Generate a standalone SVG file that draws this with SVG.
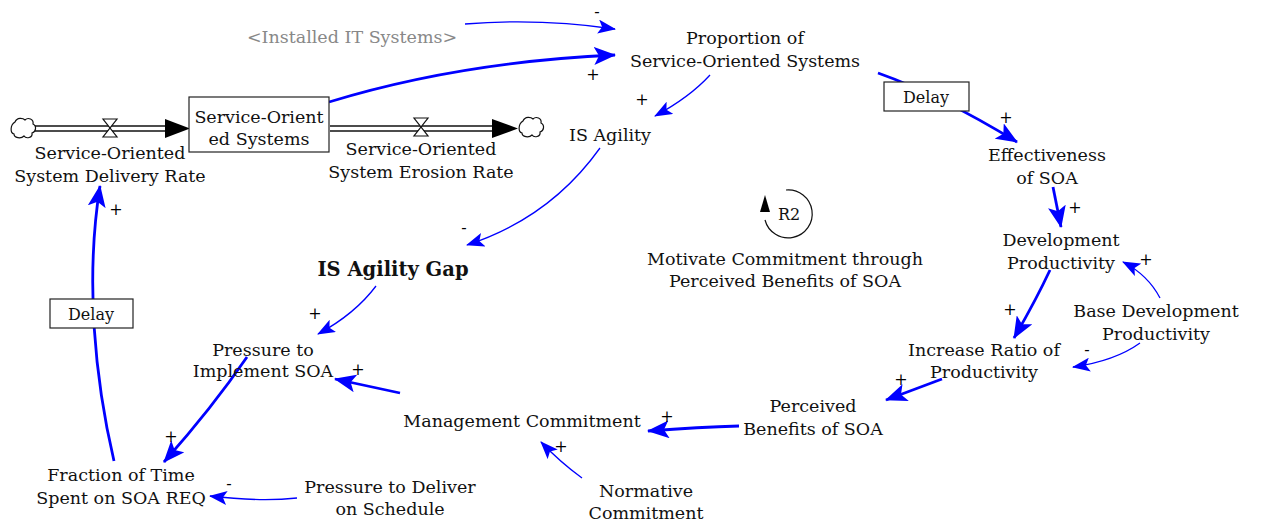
<svg xmlns="http://www.w3.org/2000/svg" width="1262" height="523" viewBox="0 0 1262 523">
<style>
text{font-family:"DejaVu Serif","Liberation Serif",serif;font-size:17.5px;fill:#111;text-anchor:middle}
.pol{font-size:16px;fill:#000}
.ghost{fill:#888}
.bold{font-weight:bold;font-size:19.5px}
.thin{fill:none;stroke:#0000ff;stroke-width:1.3;marker-end:url(#ht)}
.thick{fill:none;stroke:#0000ff;stroke-width:2.8;marker-end:url(#hk)}
.box{fill:#fff;stroke:#222;stroke-width:1.2}
.pipe{fill:none;stroke:#111;stroke-width:1.3}
.cloud{fill:#fff;stroke:#111;stroke-width:1.2}
</style>
<defs>
<marker id="ht" markerUnits="userSpaceOnUse" markerWidth="20" markerHeight="14" refX="17" refY="7" orient="auto">
<path d="M0,0 L18,7 L0,14 L4,7 Z" fill="#0000ff"/>
</marker>
<marker id="hk" markerUnits="userSpaceOnUse" markerWidth="24" markerHeight="18" refX="21" refY="9" orient="auto">
<path d="M0,0 L22,9 L0,18 L5,9 Z" fill="#0000ff"/>
</marker>
<path id="cl" d="M-8,-6 C-6,-11 0,-10 2,-8 C5,-11 11,-9 10,-4 C14,-2 13,4 9,5 C10,10 3,11 1,8 C-2,11 -9,10 -9,6 C-13,5 -13,-3 -8,-6 Z"/>
<path id="valve" d="M-7,-9 L7,-9 L-7,9 L7,9 Z"/>
</defs>

<g id="connectors">
<path class="thin" d="M465,24 Q540,18 615,29"/>
<path class="thick" d="M329,102 Q460,62 615,55"/>
<path class="thin" d="M710,75 Q690,97 655,116"/>
<path class="thin" d="M600,148 Q550,218 467,245"/>
<path class="thin" d="M376,286 Q355,314 318,334"/>
<path class="thick" d="M400,393 L335,379"/>
<path class="thick" d="M247,357 Q212,408 164,462"/>
<path class="thin" d="M297,498 Q260,502 210,496"/>
<path class="thick" d="M114,461 C95,380 85,280 100,186"/>
<path class="thick" d="M878,73 Q940,95 1017,142"/>
<path class="thick" d="M1053,187 L1061,227"/>
<path class="thick" d="M1050,270 Q1036,300 1014,338"/>
<path class="thin" d="M1160,298 Q1148,275 1123,262"/>
<path class="thin" d="M1140,343 Q1115,361 1073,367"/>
<path class="thick" d="M942,379 L886,400"/>
<path class="thick" d="M739,426 Q700,427 648,431"/>
<path class="thin" d="M582,478 Q560,462 541,442"/>
</g>

<g id="polarities">
<text class="pol" x="597" y="17">-</text>
<text class="pol" x="593" y="80">+</text>
<text class="pol" x="642" y="105">+</text>
<text class="pol" x="464" y="233">-</text>
<text class="pol" x="315" y="319">+</text>
<text class="pol" x="358" y="375">+</text>
<text class="pol" x="171" y="442">+</text>
<text class="pol" x="229" y="489">-</text>
<text class="pol" x="116" y="215">+</text>
<text class="pol" x="1006" y="123">+</text>
<text class="pol" x="1075" y="213">+</text>
<text class="pol" x="1146" y="265">+</text>
<text class="pol" x="1010" y="315">+</text>
<text class="pol" x="1087" y="355">-</text>
<text class="pol" x="901" y="385">+</text>
<text class="pol" x="667" y="422">+</text>
<text class="pol" x="561" y="452">+</text>
</g>

<g id="flow-delivery">
<use href="#cl" x="23" y="128" class="cloud"/>
<line class="pipe" x1="35" y1="126" x2="170" y2="126"/>
<line class="pipe" x1="35" y1="131" x2="170" y2="131"/>
<path d="M165,119 L190,128.5 L165,138 Z" fill="#000"/>
<use href="#valve" x="110" y="128" fill="#fff" stroke="#111" stroke-width="1.2"/>
<text x="110" y="159">Service-Oriented</text>
<text x="110" y="182">System Delivery Rate</text>
</g>

<g id="stock-soa">
<rect class="box" x="189" y="97" width="140" height="55"/>
<text x="259" y="123">Service-Orient</text>
<text x="259" y="145">ed Systems</text>
</g>

<g id="flow-erosion">
<line class="pipe" x1="330" y1="126" x2="498" y2="126"/>
<line class="pipe" x1="330" y1="131" x2="498" y2="131"/>
<path d="M492,119 L518,128.5 L492,138 Z" fill="#000"/>
<use href="#cl" x="531" y="127" class="cloud"/>
<use href="#valve" x="421" y="127" fill="#fff" stroke="#111" stroke-width="1.2"/>
<text x="421" y="155">Service-Oriented</text>
<text x="421" y="178">System Erosion Rate</text>
</g>

<g id="installed-it"><text class="ghost" x="352" y="43">&lt;Installed IT Systems&gt;</text></g>

<g id="proportion">
<text x="745" y="44">Proportion of</text>
<text x="745" y="67">Service-Oriented Systems</text>
</g>

<g id="is-agility"><text x="610" y="141">IS Agility</text></g>
<g id="is-agility-gap"><text class="bold" x="393" y="276">IS Agility Gap</text></g>

<g id="pressure-implement">
<text x="263" y="356">Pressure to</text>
<text x="263" y="377">Implement SOA</text>
</g>

<g id="management-commitment"><text x="522" y="427">Management Commitment</text></g>

<g id="fraction-time">
<text x="121" y="481">Fraction of Time</text>
<text x="121" y="504">Spent on SOA REQ</text>
</g>

<g id="pressure-deliver">
<text x="390" y="493">Pressure to Deliver</text>
<text x="390" y="515">on Schedule</text>
</g>

<g id="normative">
<text x="646" y="497">Normative</text>
<text x="646" y="519">Commitment</text>
</g>

<g id="perceived">
<text x="813" y="412">Perceived</text>
<text x="813" y="435">Benefits of SOA</text>
</g>

<g id="increase-ratio">
<text x="984" y="356">Increase Ratio of</text>
<text x="984" y="378">Productivity</text>
</g>

<g id="base-dev">
<text x="1156" y="317">Base Development</text>
<text x="1156" y="340">Productivity</text>
</g>

<g id="dev-prod">
<text x="1061" y="246">Development</text>
<text x="1061" y="269">Productivity</text>
</g>

<g id="effectiveness">
<text x="1047" y="161">Effectiveness</text>
<text x="1047" y="184">of SOA</text>
</g>

<g id="delay-top">
<rect class="box" x="884" y="82" width="85" height="29"/>
<text x="926" y="103" style="font-size:16px">Delay</text>
</g>

<g id="delay-left">
<rect class="box" x="50" y="299" width="83" height="29"/>
<text x="91" y="320" style="font-size:16px">Delay</text>
</g>

<g id="loop-r2">
<path d="M786,190 A24,24 0 1 1 765,220" fill="none" stroke="#111" stroke-width="1.2"/>
<path d="M760,212 L765,195 L770,212 Z" fill="#000"/>
<text x="789" y="220" style="font-size:16px">R2</text>
<text x="785" y="265">Motivate Commitment through</text>
<text x="785" y="287">Perceived Benefits of SOA</text>
</g>
</svg>
